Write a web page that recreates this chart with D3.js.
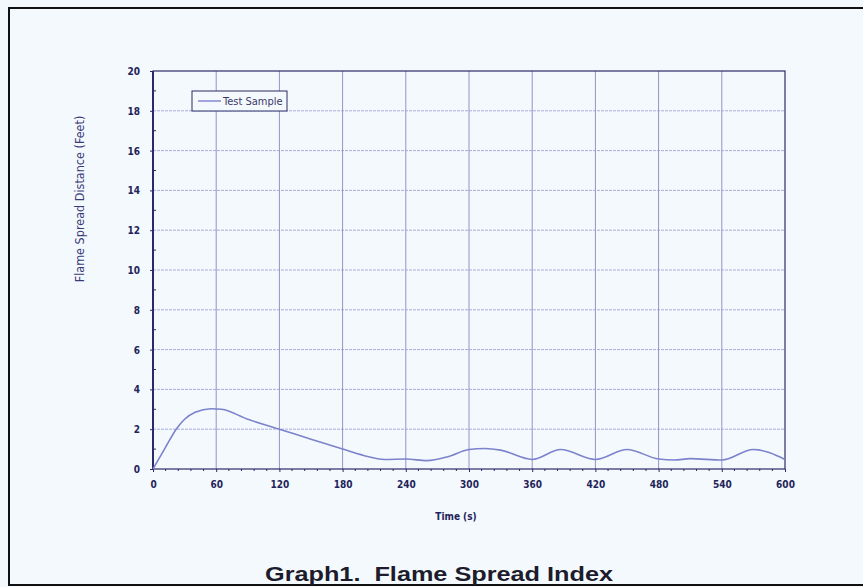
<!DOCTYPE html>
<html>
<head>
<meta charset="utf-8">
<script src="https://cdn.jsdelivr.net/npm/d3@7.9.0/dist/d3.min.js"></script>
<style>
  html, body { margin: 0; padding: 0; background: #f3f8fc; }
  svg { display: block; }
  .tick-label { font-family: "Liberation Sans Narrow", "DejaVu Sans Condensed", sans-serif; font-weight: bold; font-size: 10px; fill: #23235a; }
</style>
</head>
<body>
<svg id="chart" width="863" height="587"></svg>
<script>
// time (s) and flame spread distance (feet)
const times  = [0, 12, 22, 30, 40, 55, 65, 90, 120, 150, 180, 200, 220, 240, 260, 280, 300, 315, 330, 360, 387, 420, 450, 480, 495, 510, 540, 570, 600];
const values = [0, 1.1, 2.0, 2.5, 2.85, 3.03, 3.0, 2.5, 2.0, 1.5, 1.0, 0.68, 0.48, 0.5, 0.42, 0.62, 0.98, 1.03, 0.95, 0.48, 0.98, 0.48, 0.98, 0.5, 0.45, 0.52, 0.45, 0.98, 0.48];

const xTicks = [0, 60, 120, 180, 240, 300, 360, 420, 480, 540, 600];
const yTicks = [0, 2, 4, 6, 8, 10, 12, 14, 16, 18, 20];

const seriesName = 'Test Sample';
const xTitle = 'Time (s)';
const yTitle = 'Flame Spread Distance (Feet)';
const caption = 'Graph1.  Flame Spread Index';

const svg = d3.select('#chart');
const margin = { left: 153, right: 78, top: 71, bottom: 118 };
const width = 863, height = 587;

const x = d3.scaleLinear().domain([0, 600]).range([margin.left, width - margin.right]);
const y = d3.scaleLinear().domain([0, 20]).range([height - margin.bottom, margin.top]);

// outer frame (right side runs off the page in the scan)
svg.append('rect')
  .attr('x', 9).attr('y', 8)
  .attr('width', 880).attr('height', 577)
  .attr('fill', '#f4f9fd')
  .attr('stroke', '#111').attr('stroke-width', 2);

// grid
svg.append('g')
  .selectAll('line')
  .data(yTicks.slice(1, -1))
  .join('line')
  .attr('x1', x(0)).attr('x2', x(600))
  .attr('y1', (d) => y(d)).attr('y2', (d) => y(d))
  .attr('stroke', '#a9aedb').attr('stroke-width', 1)
  .attr('stroke-dasharray', '3,1');

svg.append('g')
  .selectAll('line')
  .data(xTicks.slice(1, -1))
  .join('line')
  .attr('x1', (d) => x(d)).attr('x2', (d) => x(d))
  .attr('y1', y(0)).attr('y2', y(20))
  .attr('stroke', '#8f94c8').attr('stroke-width', 1);

// axes
const xAxis = d3.axisBottom(x).tickValues(xTicks).tickSize(3).tickSizeOuter(0);
const yAxis = d3.axisLeft(y).tickValues(yTicks).tickSize(3).tickSizeOuter(0);

const gx = svg.append('g').attr('transform', `translate(0,${y(0)})`).call(xAxis);
const gy = svg.append('g').attr('transform', `translate(${x(0)},0)`).call(yAxis);

[gx, gy].forEach((g) => {
  g.select('.domain').remove();
  g.selectAll('.tick line').attr('stroke', '#2a2a66');
  g.selectAll('.tick text').attr('class', 'tick-label');
});
gx.selectAll('.tick text').attr('dy', '1.3em');
gy.selectAll('.tick text').attr('x', -13).attr('dy', '0.35em');

// minor ticks
const minorX = d3.range(0, 601, 12).filter((d) => d % 60 !== 0);
svg.append('g')
  .selectAll('line')
  .data(minorX)
  .join('line')
  .attr('x1', (d) => x(d)).attr('x2', (d) => x(d))
  .attr('y1', y(0)).attr('y2', y(0) + 2)
  .attr('stroke', '#2a2a66');

const minorY = d3.range(1, 20, 2);
svg.append('g')
  .selectAll('line')
  .data(minorY)
  .join('line')
  .attr('x1', x(0)).attr('x2', x(0) + 3)
  .attr('y1', (d) => y(d)).attr('y2', (d) => y(d))
  .attr('stroke', '#2a2a66');

// plot border
svg.append('rect')
  .attr('x', x(0)).attr('y', y(20))
  .attr('width', x(600) - x(0)).attr('height', y(0) - y(20))
  .attr('fill', 'none')
  .attr('stroke', '#2a2a66').attr('stroke-width', 1.2);
svg.append('line')
  .attr('x1', x(0)).attr('x2', x(0))
  .attr('y1', y(0)).attr('y2', y(20))
  .attr('stroke', '#2a2a66').attr('stroke-width', 2);

// series
const data = times.map((t, i) => ({ t, v: values[i] }));
const line = d3.line()
  .x((d) => x(d.t))
  .y((d) => y(d.v))
  .curve(d3.curveMonotoneX);

svg.append('path')
  .datum(data)
  .attr('d', line)
  .attr('fill', 'none')
  .attr('stroke', '#7c82cc')
  .attr('stroke-width', 1.6);

// legend
const legend = svg.append('g').attr('transform', 'translate(192,91)');
legend.append('rect')
  .attr('width', 95).attr('height', 20)
  .attr('fill', '#f4f9fd')
  .attr('stroke', '#2a2a66').attr('stroke-width', 1);
legend.append('line')
  .attr('x1', 6).attr('x2', 29)
  .attr('y1', 10).attr('y2', 10)
  .attr('stroke', '#7c82cc').attr('stroke-width', 1.4);
legend.append('text')
  .attr('x', 31).attr('y', 14)
  .attr('font-family', '"Liberation Sans Narrow", "DejaVu Sans Condensed", sans-serif')
  .attr('font-size', 11)
  .attr('fill', '#3a3a6a')
  .text(seriesName);

// axis titles
svg.append('text')
  .attr('x', 456).attr('y', 520)
  .attr('text-anchor', 'middle')
  .attr('font-family', '"Liberation Sans Narrow", "DejaVu Sans Condensed", sans-serif')
  .attr('font-weight', 'bold')
  .attr('font-size', 10)
  .attr('fill', '#23235a')
  .text(xTitle);

svg.append('text')
  .attr('transform', 'translate(84,199) rotate(-90)')
  .attr('text-anchor', 'middle')
  .attr('font-family', '"Liberation Sans Narrow", "DejaVu Sans Condensed", sans-serif')
  .attr('font-size', 12.5)
  .attr('fill', '#3a3a7a')
  .text(yTitle);

// caption
svg.append('text')
  .attr('x', 265).attr('y', 581)
  .attr('font-family', '"Liberation Sans", Arial, sans-serif')
  .attr('font-weight', 'bold')
  .attr('font-size', 21)
  .attr('fill', '#1c1c2c')
  .attr('textLength', 348)
  .attr('lengthAdjust', 'spacingAndGlyphs')
  .style('white-space', 'pre')
  .text(caption);
</script>
</body>
</html>
